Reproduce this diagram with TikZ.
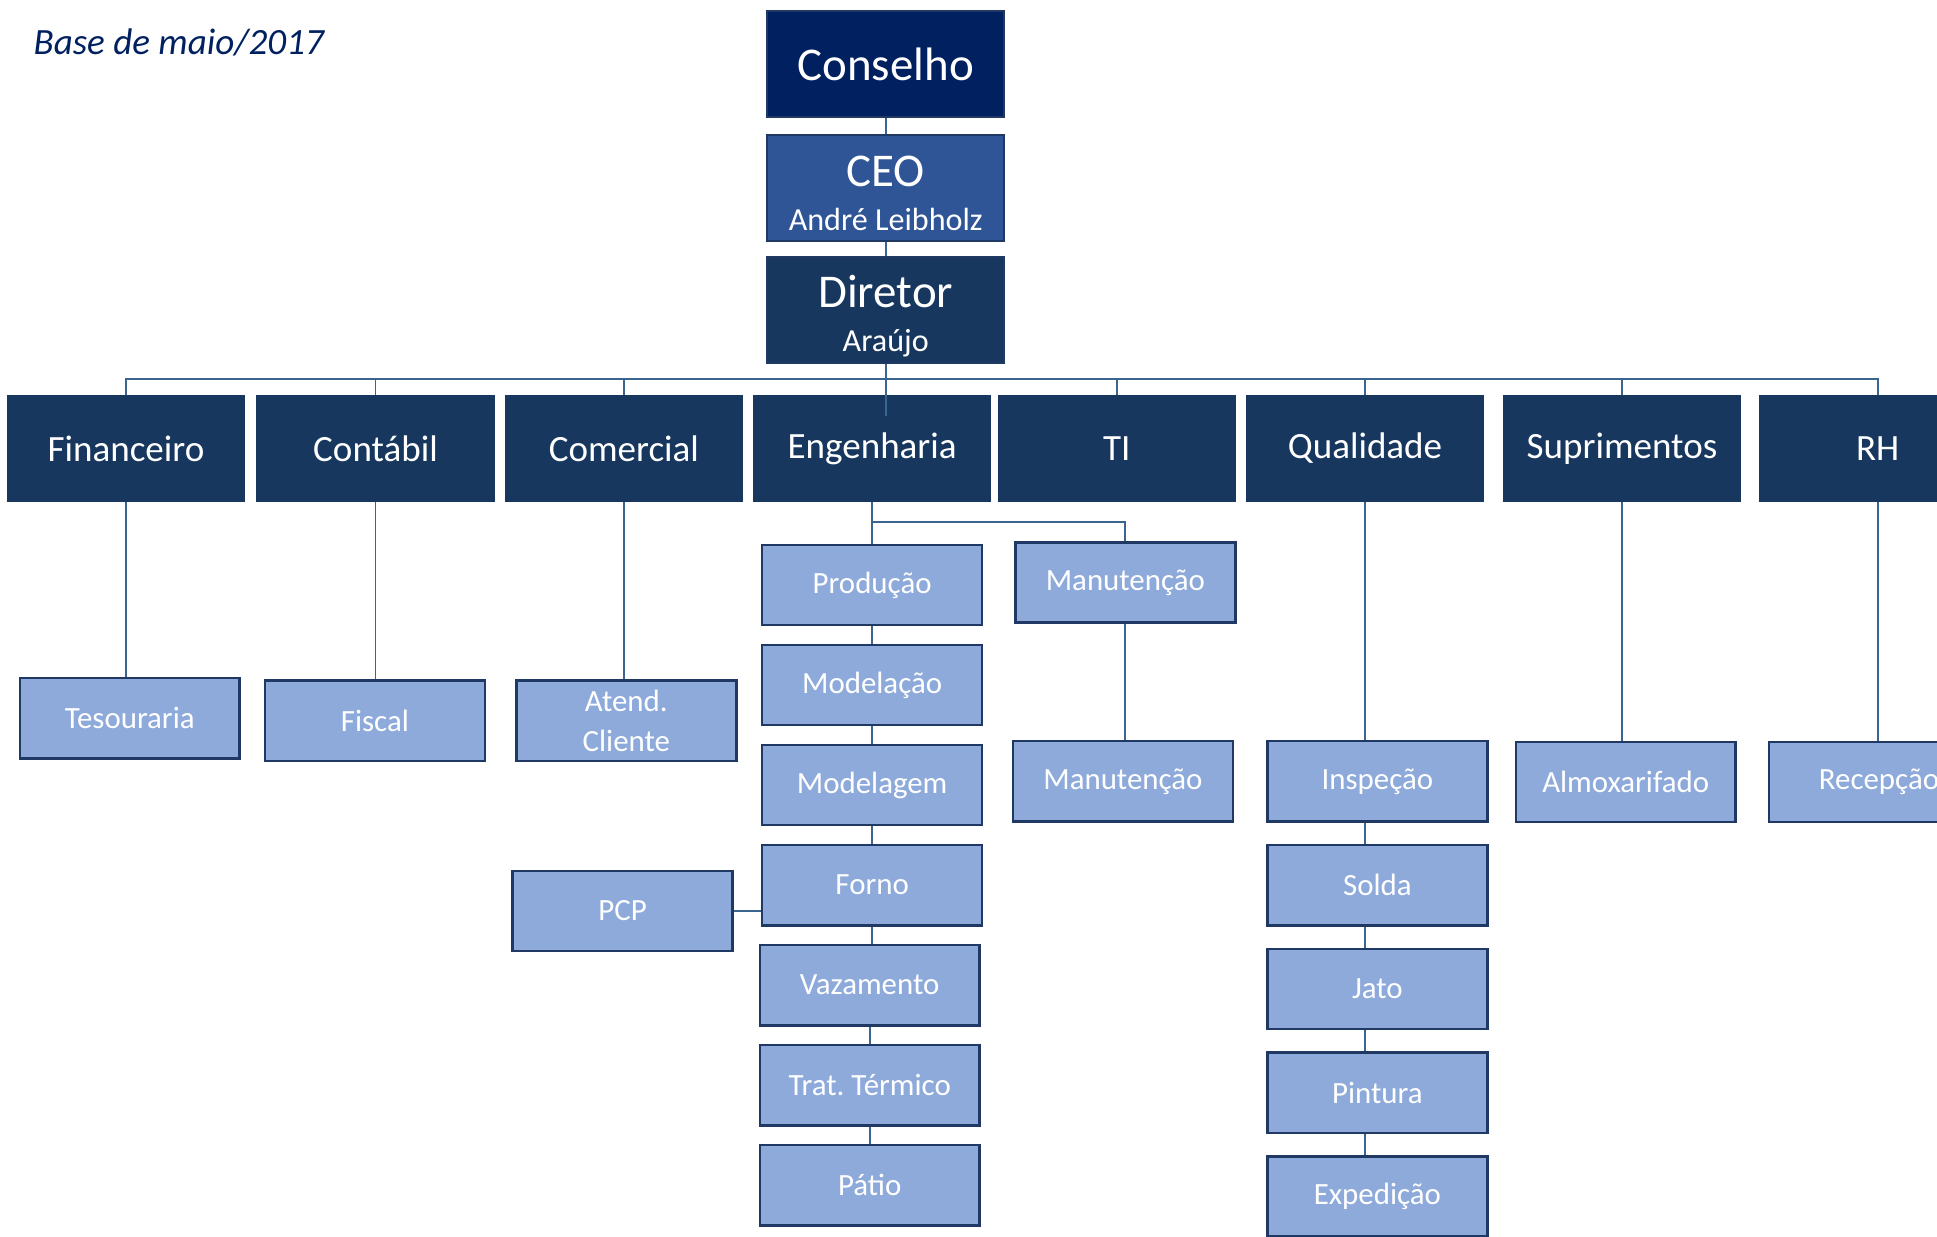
\documentclass[tikz,border=0pt]{standalone}
\usepackage{fontspec}
\setmainfont{Carlito}
\usepackage{tikz}
\usetikzlibrary{positioning}
\usepackage{xcolor}
\definecolor{navy}{HTML}{002060}
\definecolor{ceoblue}{HTML}{2F5597}
\definecolor{deptblue}{HTML}{17375E}
\definecolor{unitblue}{HTML}{8EAADB}
\definecolor{edge}{HTML}{1F3864}
\definecolor{wire}{HTML}{3A6591}

\begin{document}
\begin{tikzpicture}[x=1pt, y=-1pt,
    headbox/.style={draw=edge, line width=1.5pt, fill=navy, text=white, minimum width=192pt, minimum height=86pt, inner sep=0pt, align=center, font=\fontsize{26}{36}\selectfont},
    deptbox/.style={draw=deptblue, line width=1pt, fill=deptblue, text=white, minimum width=192pt, minimum height=86pt, inner sep=0pt, font=\fontsize{30}{36}\selectfont},
    unitbox/.style={draw=edge, line width=2pt, fill=unitblue, text=white, minimum width=178pt, minimum height=65pt, inner sep=0pt, align=center, font=\fontsize{25}{32}\selectfont},
    link/.style={draw=wire, line width=1.5pt}]
        \useasboundingbox (0,0) rectangle (1568,1001);

        % Nodes
        \node[anchor=west, inner sep=0pt, text=navy, font=\fontsize{30}{36}\selectfont\itshape] (title) at (27,34) {Base de maio/2017};

        \node[headbox] (cons) at (717,52) {\fontsize{38}{40}\selectfont Conselho};
        \node[headbox, fill=ceoblue, below=12.5pt of cons] (ceo) {{\fontsize{38}{40}\selectfont\rule{0pt}{34pt}CEO}\\André Leibholz};
        \node[headbox, fill=deptblue, below=11.5pt of ceo] (dir) {{\fontsize{38}{40}\selectfont\rule{0pt}{36pt}Diretor}\\Araújo};

        \node[deptbox] (fin) at (102,363) {Financeiro};
        \node[deptbox, right=9pt of fin] (cont) {Contábil};
        \node[deptbox, right=8pt of cont] (com) {Comercial};
        \node[deptbox, right=8pt of com] (eng) {Engenharia};
        \node[deptbox, right=5pt of eng] (ti) {TI};
        \node[deptbox, right=8pt of ti] (qual) {Qualidade};
        \node[deptbox, right=15pt of qual] (sup) {Suprimentos};
        \node[deptbox, right=14pt of sup] (rh) {RH};

        \node[unitbox] (tes) at (105,581.5) {Tesouraria};
        \node[unitbox] (fis) at (303.5,583.5) {Fiscal};
        \node[unitbox] (atd) at (507,583.5) {Atend.\\Cliente};

        \node[unitbox] (prod) at (706,473.5) {Produção};
        \node[unitbox, below=14pt of prod] (mlc) {Modelação};
        \node[unitbox, below=14pt of mlc] (mlg) {Modelagem};
        \node[unitbox, below=14pt of mlg] (forno) {Forno};
        \node[unitbox, below=14pt of forno, xshift=-2pt] (vaz) {Vazamento};
        \node[unitbox, below=14pt of vaz] (trat) {Trat.\ Térmico};
        \node[unitbox, below=14pt of trat] (patio) {Pátio};
        \node[unitbox] (pcp) at (504,737.5) {PCP};

        \node[unitbox] (man1) at (911,471.5) {Manutenção};
        \node[unitbox, below=94pt of man1, xshift=-2pt] (man2) {Manutenção};

        \node[unitbox] (insp) at (1115,632.5) {Inspeção};
        \node[unitbox, below=17pt of insp] (solda) {Solda};
        \node[unitbox, below=17pt of solda] (jato) {Jato};
        \node[unitbox, below=17pt of jato] (pint) {Pintura};
        \node[unitbox, below=17pt of pint] (exped) {Expedição};

        \node[unitbox] (alm) at (1316,633) {Almoxarifado};
        \node[unitbox] (rec) at (1521,633) {Recepção};

        % Lines
        \draw[link] (cons) -- (ceo);
        \draw[link] (ceo) -- (dir);
        \draw[link] (dir.south) -- (dir.south |- eng.north) -- ++(0,17);
        \draw[link] (fin.north) -- ++(0,-13) -| (rh.north);
        \foreach \d in {cont,com,ti,qual,sup}
            \draw[link] (\d.north) -- ++(0,-13);

        \foreach \a/\b in {fin/tes, cont/fis, com/atd, eng/prod, qual/insp, sup/alm, rh/rec, man1/man2}
            \draw[link] (\a.south) -- (\a.south |- \b.north);
        \draw[link] ([yshift=-16pt]eng.south) -| (man1.north);
        \foreach \a/\b in {prod/mlc, mlc/mlg, mlg/forno, forno/vaz, vaz/trat, trat/patio}
            \draw[link] (\a.south) -- (\a.south |- \b.north);
        \foreach \a/\b in {insp/solda, solda/jato, jato/pint, pint/exped}
            \draw[link] (\a.south -| qual.south) -- (\b.north -| qual.south);
        \draw[link] (pcp.east) -- (pcp.east -| forno.west);
\end{tikzpicture}
\end{document}
